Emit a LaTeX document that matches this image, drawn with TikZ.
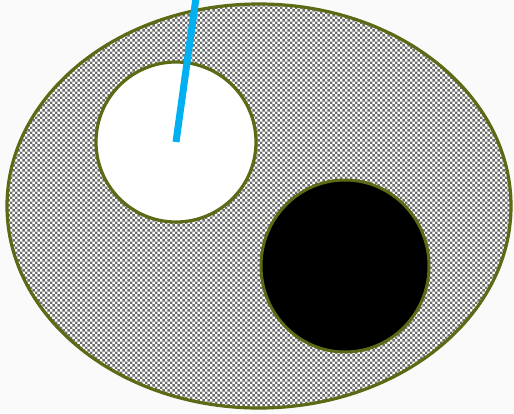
\documentclass[tikz,border=0pt]{standalone}
\usepackage{tikz}
\usetikzlibrary{patterns.meta}
\definecolor{olivedge}{HTML}{5A6A15}
\definecolor{skyray}{HTML}{00B0F0}
\tikzdeclarepattern{
  name=grain, type=uncolored,
  bounding box={(0pt,0pt) and (5.4pt,5.4pt)},
  tile size={(5.4pt,5.4pt)},
  code={
    \fill (0pt,0pt) rectangle (2.7pt,2.7pt);
    \fill (2.7pt,2.7pt) rectangle (5.4pt,5.4pt);
  }
}
\tikzset{
  rim/.style={draw=olivedge, line width=3.2pt},
  body/.style={rim, pattern=grain, pattern color=gray!85!black},
  hole/.style={rim, fill=white},
  core/.style={rim, line width=3pt, fill=black},
  ray/.style={skyray, line width=7pt}
}

\begin{document}
\begin{tikzpicture}[x=1pt,y=-1pt]
  \fill[white!96!gray] (0,0) rectangle (514,413);
  \useasboundingbox (0,0) rectangle (514,413);
  \begin{scope}
    \clip (0,0) rectangle (514,413);
    \fill[white] (259,206) ellipse [x radius=252, y radius=202];
    \draw[body] (259,206) ellipse [x radius=252, y radius=202];
    \coordinate (hub) at (176,142);
    \coordinate (tip) at (196,-2);
    \draw[hole] (hub) circle [radius=80];
    \draw[core] (345,266) circle [x radius=84, y radius=86];
    \draw[ray] (hub) -- (tip);
  \end{scope}
\end{tikzpicture}
\end{document}
